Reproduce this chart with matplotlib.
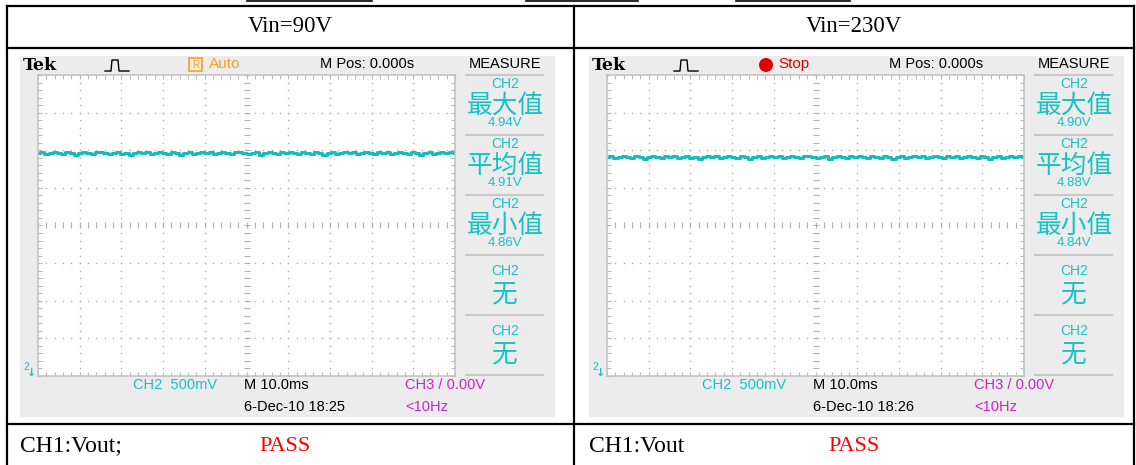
import numpy as np
import matplotlib.pyplot as plt
from matplotlib.patches import Rectangle, Circle

W, H = 1136, 465

# table texts
headers = ["Vin=90V", "Vin=230V"]
footer_labels = ["CH1:Vout;", "CH1:Vout"]
results = ["PASS", "PASS"]

# scope screen texts
run_state = ["Auto", "Stop"]
timestamps = ["6-Dec-10 18:25", "6-Dec-10 18:26"]
measure_names = ["最大值", "平均值", "最小值", "无", "无"]
measure_90v = ["4.94V", "4.91V", "4.86V", "", ""]
measure_230v = ["4.90V", "4.88V", "4.84V", "", ""]
ch2_scale = "CH2  500mV"
time_base = "M 10.0ms"
trigger = "CH3 / 0.00V"
trig_freq = "<10Hz"

volts_per_div = 0.5
screen_bottom_v = [1.947, 1.97]   # voltage at bottom graticule line

# CH2 trace samples (V)
trace_90v = [4.91, 4.92, 4.90, 4.91, 4.93, 4.91, 4.90, 4.92, 4.91, 4.89,
             4.91, 4.92, 4.91, 4.90, 4.92, 4.93, 4.91, 4.90, 4.91, 4.92,
             4.90, 4.91, 4.89, 4.91, 4.92, 4.91, 4.93, 4.90, 4.91, 4.92,
             4.91, 4.90, 4.92, 4.91, 4.89, 4.91, 4.92, 4.90, 4.91, 4.93,
             4.91, 4.92, 4.90, 4.91, 4.92, 4.91, 4.90, 4.92, 4.93, 4.91,
             4.90, 4.91, 4.92, 4.89, 4.91, 4.92, 4.91, 4.90, 4.92, 4.91,
             4.93, 4.91, 4.90, 4.92, 4.91, 4.90, 4.92, 4.91, 4.89, 4.91,
             4.92, 4.90, 4.91, 4.93, 4.91, 4.92, 4.90, 4.91, 4.92, 4.91,
             4.90, 4.92, 4.91, 4.93, 4.90, 4.91, 4.92, 4.91, 4.90, 4.92,
             4.91, 4.89, 4.91, 4.92, 4.90, 4.91, 4.93, 4.91, 4.92, 4.91]
trace_230v = [4.88, 4.89, 4.87, 4.88, 4.90, 4.88, 4.87, 4.89, 4.88, 4.86,
              4.88, 4.89, 4.88, 4.87, 4.89, 4.88, 4.90, 4.87, 4.88, 4.89,
              4.87, 4.88, 4.86, 4.88, 4.89, 4.88, 4.90, 4.87, 4.88, 4.89,
              4.88, 4.87, 4.89, 4.88, 4.86, 4.88, 4.89, 4.87, 4.88, 4.90,
              4.88, 4.89, 4.87, 4.88, 4.89, 4.88, 4.87, 4.89, 4.90, 4.88,
              4.87, 4.88, 4.89, 4.86, 4.88, 4.89, 4.88, 4.87, 4.89, 4.88,
              4.90, 4.88, 4.87, 4.89, 4.88, 4.87, 4.89, 4.88, 4.86, 4.88,
              4.89, 4.87, 4.88, 4.90, 4.88, 4.89, 4.87, 4.88, 4.89, 4.88,
              4.87, 4.89, 4.88, 4.90, 4.87, 4.88, 4.89, 4.88, 4.87, 4.89,
              4.88, 4.86, 4.88, 4.89, 4.87, 4.88, 4.90, 4.88, 4.89, 4.88]

traces = [trace_90v, trace_230v]
measures = [measure_90v, measure_230v]

CYAN = '#17c2c4'
TRACE = '#14bcbc'
ORANGE = '#f7a21b'
MAGENTA = '#cc22cc'
GRID = '#b0b0b0'
SANS = 'Liberation Sans'
SERIF = 'Liberation Serif'
CJK = 'Noto Sans CJK SC'

fig = plt.figure(figsize=(11.36, 4.65), dpi=100)
bg = fig.add_axes([0, 0, 1, 1])
bg.set_xlim(0, W)
bg.set_ylim(H, 0)
bg.axis('off')

# table frame
lw = 1.6
bg.plot([7, 1134], [6, 6], color='k', lw=lw)
bg.plot([7, 1134], [48, 48], color='k', lw=lw)
bg.plot([7, 1134], [424, 424], color='k', lw=lw)
for xv in [7, 574, 1134]:
    bg.plot([xv, xv], [6, 465], color='k', lw=lw)
# fragments of the row above
for x0, x1 in [(247, 372), (526, 638), (736, 850)]:
    bg.plot([x0, x1], [0.8, 0.8], color='k', lw=1.2)

for i in range(2):
    dx = i * 569
    cx = [290, 854][i]
    bg.text(cx, 27, headers[i], ha='center', va='center', fontsize=16.5, family=SERIF)
    bg.text(20 + dx, 446, footer_labels[i], ha='left', va='center', fontsize=17, family=SERIF)
    bg.text(285 + dx, 446, results[i], ha='center', va='center', fontsize=16,
            family=SERIF, color='#ff0000')

    # scope panel
    bg.add_patch(Rectangle((20 + dx, 56), 535, 361, fc='#ececec', ec='none'))

    # top bar
    bg.text(23 + dx, 65, 'Tek', ha='left', va='center', fontsize=12.5,
            family='DejaVu Serif', weight='bold')
    bg.plot(np.array([105, 110, 111, 112, 118, 119, 120, 129]) + dx,
            [71, 71, 71, 60, 60, 71, 71, 71], color='k', lw=1)
    if i == 0:
        bg.add_patch(Rectangle((189 + dx, 58), 13, 13, fc='none', ec=ORANGE, lw=1.2))
        bg.text(195.5 + dx, 64.5, 'R', ha='center', va='center', fontsize=7,
                family=SANS, color=ORANGE)
        bg.text(209 + dx, 64, run_state[i], ha='left', va='center', fontsize=11,
                family=SANS, color=ORANGE)
    else:
        bg.add_patch(Circle((766, 65), 7, fc='#e00000', ec='none'))
        bg.text(778, 64, run_state[i], ha='left', va='center', fontsize=11,
                family=SANS, color='#e00000')
    bg.text(320 + dx, 64, 'M Pos: 0.000s', ha='left', va='center', fontsize=10.5, family=SANS)
    bg.text(505 + dx, 64, 'MEASURE', ha='center', va='center', fontsize=10.5, family=SANS)

    # measurement panel
    bg.plot([466 + dx, 543 + dx], [75, 75], color='#c8c8c8', lw=1.5)
    for k in range(5):
        top = 75 + 60 * k
        if measures[i][k]:
            bg.text(505 + dx, top + 9, 'CH2', ha='center', va='center', fontsize=10,
                    family=SANS, color=CYAN)
            bg.text(505 + dx, top + 31, measure_names[k], ha='center', va='center',
                    fontsize=18.5, family=CJK, color=CYAN)
            bg.text(505 + dx, top + 48, measures[i][k], ha='center', va='center',
                    fontsize=9.5, family=SANS, color=CYAN)
        else:
            bg.text(505 + dx, top + 16, 'CH2', ha='center', va='center', fontsize=10,
                    family=SANS, color=CYAN)
            bg.text(505 + dx, top + 40, measure_names[k], ha='center', va='center',
                    fontsize=18.5, family=CJK, color=CYAN)
        bg.plot([466 + dx, 543 + dx], [top + 60, top + 60], color='#c8c8c8', lw=1.5)

    # bottom status
    bg.text(133 + dx, 385, ch2_scale, ha='left', va='center', fontsize=10.5, family=SANS, color=CYAN)
    bg.text(244 + dx, 385, time_base, ha='left', va='center', fontsize=10.5, family=SANS)
    bg.text(244 + dx, 407, timestamps[i], ha='left', va='center', fontsize=10.5, family=SANS)
    bg.text(405 + dx, 385, trigger, ha='left', va='center', fontsize=10.5, family=SANS, color=MAGENTA)
    bg.text(405 + dx, 407, trig_freq, ha='left', va='center', fontsize=10.5, family=SANS, color=MAGENTA)

    # ground marker and trigger position marker
    bg.text(23 + dx, 367, '2', ha='left', va='center', fontsize=7.5, family=SANS, color=CYAN)
    bg.text(32 + dx, 373, '↓', ha='center', va='center', fontsize=8, weight='bold', color=CYAN)
    bg.text(246 + dx, 81, '↓', ha='center', va='center', fontsize=10, weight='bold', color='k')

    # graticule
    gx0, gy0, gw, gh = 38 + dx, 75, 417, 301
    ax = fig.add_axes([gx0 / W, 1 - (gy0 + gh) / H, gw / W, gh / H])
    ax.set_xlim(0, 10)
    ax.set_ylim(0, 8)
    ax.set_facecolor('white')
    for sp in ax.spines.values():
        sp.set_color('#c4c4c4')
        sp.set_linewidth(1.2)
    ax.set_xticks(np.arange(0, 10.01, 0.2))
    ax.set_yticks(np.arange(0, 8.01, 0.2))
    ax.tick_params(direction='in', length=3, width=0.8, color='#b8b8b8',
                   top=True, right=True, labelbottom=False, labelleft=False)
    fine_x = np.arange(0, 10.01, 0.2)
    fine_y = np.arange(0, 8.01, 0.2)
    for gx in range(1, 10):
        if gx == 5:
            ax.plot(np.full(len(fine_y), gx), fine_y, ls='none', marker='_', ms=4,
                    mew=0.8, color=GRID)
        else:
            ax.plot(np.full(len(fine_y), gx), fine_y, ls='none', marker='s', ms=1,
                    mew=0, color=GRID)
    for gy in range(1, 8):
        if gy == 4:
            ax.plot(fine_x, np.full(len(fine_x), gy), ls='none', marker='|', ms=4,
                    mew=0.8, color=GRID)
        else:
            ax.plot(fine_x, np.full(len(fine_x), gy), ls='none', marker='s', ms=1,
                    mew=0, color=GRID)

    # CH2 trace
    tr = np.array(traces[i])
    t = np.linspace(0, 10, len(tr))
    ax.plot(t, (tr - screen_bottom_v[i]) / volts_per_div, color=TRACE, lw=2.2,
            drawstyle='steps-mid')

fig.savefig('out.png', dpi=100)
